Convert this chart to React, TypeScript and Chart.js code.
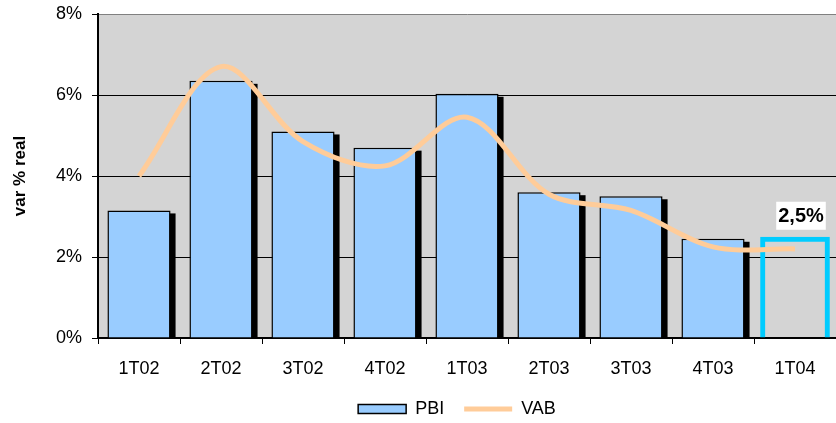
import React, { useEffect, useRef } from 'react';
import { Chart, registerables } from 'chart.js';

Chart.register(...registerables);

const categories = ['1T02', '2T02', '3T02', '4T02', '1T03', '2T03', '3T03', '4T03', '1T04'];
const pbiValues: (number | null)[] = [3.15, 6.35, 5.1, 4.7, 6.03, 3.6, 3.5, 2.45, null];
const vabValues: number[] = [4.0, 6.7, 4.85, 4.25, 5.45, 3.55, 3.15, 2.25, 2.2];
const highlightValues: (number | null)[] = [null, null, null, null, null, null, null, null, 2.5];
const highlightLabel = '2,5%';
const yTickValues = [0, 2, 4, 6, 8];
const yTitle = 'var % real';
const legendNames = ['PBI', 'VAB'];

const FONT = "'Liberation Sans', Arial, sans-serif";
const BAR_FILL = '#99CCFF';
const LINE_COLOR = '#FFCC99';
const CYAN = '#00CCFF';

export default function App() {
  const ref = useRef<HTMLCanvasElement>(null);

  useEffect(() => {
    document.body.style.margin = '0';
    const canvas = ref.current!;

    const bgPlugin = {
      id: 'plotBg',
      beforeDraw(chart: any) {
        const { ctx, chartArea: a } = chart;
        ctx.save();
        ctx.fillStyle = '#D4D4D4';
        ctx.fillRect(a.left, a.top, a.right - a.left, a.bottom - a.top);
        ctx.restore();
      },
    };

    const shadowPlugin = {
      id: 'barShadow',
      beforeDatasetDraw(chart: any, args: any) {
        if (args.index !== 0) return;
        const a = chart.chartArea;
        const c = chart.ctx;
        c.save();
        c.beginPath();
        c.rect(a.left, a.top, a.right - a.left, a.bottom - a.top);
        c.clip();
        c.fillStyle = '#000';
        args.meta.data.forEach((el: any, i: number) => {
          if (pbiValues[i] == null) return;
          const p = el.getProps(['x', 'y', 'base', 'width'], true);
          c.fillRect(p.x - p.width / 2 + 5, p.y + 3, p.width, p.base - p.y - 3);
        });
        c.restore();
      },
    };

    const labelPlugin = {
      id: 'highlightLabel',
      afterDatasetsDraw(chart: any) {
        const meta = chart.getDatasetMeta(2);
        const idx = highlightValues.findIndex((v) => v != null);
        const el = meta.data[idx];
        if (!el) return;
        const c = chart.ctx;
        const x = el.x + 6;
        const y = el.y - 21;
        c.save();
        c.font = `bold 20px ${FONT}`;
        const w = c.measureText(highlightLabel).width;
        c.fillStyle = '#FFFFFF';
        c.fillRect(x - w / 2 - 2, y - 14, w + 4, 28);
        c.fillStyle = '#000';
        c.textAlign = 'center';
        c.textBaseline = 'middle';
        c.fillText(highlightLabel, x, y + 1);
        c.restore();
      },
    };

    const chart = new Chart(canvas, {
      type: 'bar',
      data: {
        labels: categories,
        datasets: [
          {
            type: 'bar',
            label: legendNames[0],
            data: pbiValues,
            backgroundColor: BAR_FILL,
            borderColor: '#000',
            borderWidth: 1.5,
            barPercentage: 0.77,
            categoryPercentage: 1,
            grouped: false,
            order: 2,
          },
          {
            type: 'line',
            label: legendNames[1],
            data: vabValues,
            borderColor: LINE_COLOR,
            backgroundColor: LINE_COLOR,
            borderWidth: 5,
            tension: 0.33,
            pointRadius: 0,
            fill: false,
            order: 0,
          },
          {
            type: 'bar',
            label: 'highlight',
            data: highlightValues,
            backgroundColor: 'rgba(0,0,0,0)',
            borderColor: CYAN,
            borderWidth: 5,
            barPercentage: 0.85,
            categoryPercentage: 1,
            grouped: false,
            order: 1,
          },
        ] as any,
      },
      options: {
        animation: false,
        responsive: false,
        devicePixelRatio: 1,
        layout: { padding: { top: 14, right: 0, bottom: -5, left: 0 } },
        plugins: {
          tooltip: { enabled: false },
          legend: {
            position: 'bottom',
            fullSize: false,
            labels: {
              font: { family: FONT, size: 18 },
              color: '#000',
              usePointStyle: true,
              pointStyleWidth: 48,
              boxHeight: 9,
              padding: 20,
              generateLabels: () => [
                {
                  text: legendNames[0],
                  fillStyle: BAR_FILL,
                  strokeStyle: '#000',
                  lineWidth: 1.5,
                  pointStyle: 'rect',
                  datasetIndex: 0,
                  hidden: false,
                },
                {
                  text: legendNames[1] + '    ',
                  fillStyle: LINE_COLOR,
                  strokeStyle: LINE_COLOR,
                  lineWidth: 5,
                  pointStyle: 'line',
                  datasetIndex: 1,
                  hidden: false,
                },
              ],
            },
          },
        },
        scales: {
          x: {
            offset: true,
            afterFit: (s: any) => {
              s.height = 42;
            },
            grid: {
              display: true,
              offset: true,
              drawOnChartArea: false,
              drawTicks: true,
              tickLength: 6,
              color: '#000',
            },
            border: { color: '#000', width: 2 },
            ticks: {
              color: '#000',
              font: { family: FONT, size: 18 },
              padding: 14,
              maxRotation: 0,
            },
          },
          y: {
            min: 0,
            max: 8,
            afterFit: (s: any) => {
              s.width = 98;
              s.paddingTop = 0;
              s.paddingBottom = 0;
            },
            afterBuildTicks: (s: any) => {
              s.ticks = yTickValues.map((v) => ({ value: v }));
            },
            grid: {
              color: (c: any) => (c.tick && c.tick.value === 8 ? '#808080' : '#000'),
              tickColor: '#000',
              lineWidth: 1,
              tickLength: 6,
            },
            border: { color: '#000', width: 2 },
            ticks: {
              color: '#000',
              font: { family: FONT, size: 18 },
              padding: 10,
              callback: (v: any) => `${v}%`,
            },
            title: {
              display: true,
              text: yTitle,
              color: '#000',
              font: { family: FONT, size: 17, weight: 'bold' },
              padding: { top: 10, bottom: 0 },
            },
          },
        },
      },
      plugins: [bgPlugin, shadowPlugin, labelPlugin],
    } as any);

    return () => chart.destroy();
  }, []);

  return (
    <div style={{ width: 836, height: 423 }}>
      <canvas ref={ref} width={836} height={423} />
    </div>
  );
}
